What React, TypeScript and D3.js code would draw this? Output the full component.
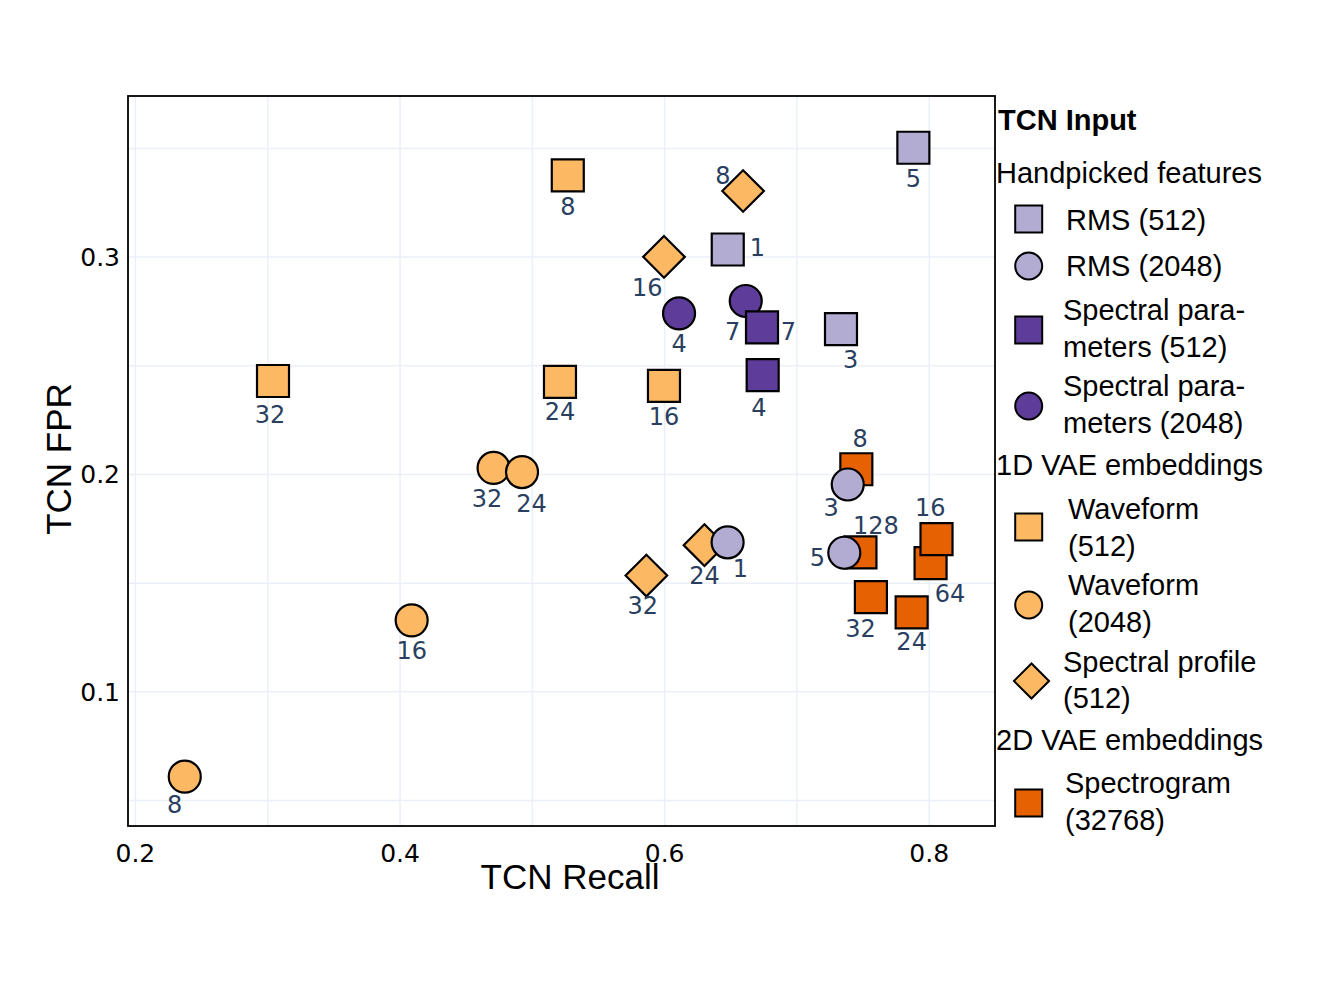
import React from "react";
import * as d3 from "d3";

// ---------- DATA ----------
const rms512X = [0.788, 0.6477, 0.7333];
const rms512Y = [0.3503, 0.3035, 0.2669];
const rms512Labels = ["5", "1", "3"];

const rms2048X = [0.7384, 0.6476, 0.7358];
const rms2048Y = [0.1954, 0.1688, 0.164];
const rms2048Labels = ["3", "1", "5"];

const spec512X = [0.6736, 0.6741];
const spec512Y = [0.2677, 0.2457];
const spec512Labels = ["7", "4"];

const spec2048X = [0.6109, 0.6613];
const spec2048Y = [0.2741, 0.2798];
const spec2048Labels = ["4", "7"];

const wave512X = [0.5268, 0.304, 0.5209, 0.5995];
const wave512Y = [0.3376, 0.243, 0.2426, 0.2408];
const wave512Labels = ["8", "32", "24", "16"];

const wave2048X = [0.4707, 0.4922, 0.4088, 0.2373];
const wave2048Y = [0.203, 0.2011, 0.1329, 0.061];
const wave2048Labels = ["32", "24", "16", "8"];

const profileX = [0.6593, 0.5995, 0.6301, 0.5862];
const profileY = [0.3304, 0.3001, 0.1675, 0.1535];
const profileLabels = ["8", "16", "24", "32"];

const spectroX = [0.7449, 0.748, 0.801, 0.8055, 0.7559, 0.7867];
const spectroY = [0.2024, 0.1642, 0.1592, 0.1703, 0.1436, 0.1366];
const spectroLabels = ["8", "128", "64", "16", "32", "24"];

const xTicks = [0.2, 0.4, 0.6, 0.8];
const yTicks = [0.1, 0.2, 0.3];
const xGrid = [0.2, 0.3, 0.4, 0.5, 0.6, 0.7, 0.8];
const yGrid = [0.05, 0.1, 0.15, 0.2, 0.25, 0.3, 0.35];

const legendTitle = "TCN Input";
const groupNames = ["Handpicked features", "1D VAE embeddings", "2D VAE embeddings"];

// ---------- LAYOUT / STYLE ----------
const W = 1329;
const H = 997;
const plot = { left: 128, right: 995, top: 96, bottom: 826 };
const xDomain = [0.1944, 0.8497];
const yDomain = [0.0383, 0.3741];

const C = {
  lightPurple: "#b2abd2",
  darkPurple: "#5e3c99",
  lightOrange: "#fdb863",
  darkOrange: "#e66101",
};

type Sym = "square" | "circle" | "diamond";

// label center offsets in px relative to the marker
const series = [
  {
    key: "spectro", name: ["Spectrogram", "(32768)"], sym: "square" as Sym, color: C.darkOrange,
    xs: spectroX, ys: spectroY, labels: spectroLabels,
    off: [[3.7, -30.8], [15.5, -26.5], [19.5, 29.8], [-6.2, -32], [-10.4, 30.8], [0, 28.7]],
  },
  {
    key: "profile", name: ["Spectral profile", "(512)"], sym: "diamond" as Sym, color: C.lightOrange,
    xs: profileX, ys: profileY, labels: profileLabels,
    off: [[-20.3, -16], [-16.7, 30.6], [0, 30.5], [-3.5, 30.1]],
  },
  {
    key: "wave2048", name: ["Waveform", "(2048)"], sym: "circle" as Sym, color: C.lightOrange,
    xs: wave2048X, ys: wave2048Y, labels: wave2048Labels,
    off: [[-6.6, 30.8], [9.6, 30.8], [0, 30], [-10, 27.3]],
  },
  {
    key: "wave512", name: ["Waveform", "(512)"], sym: "square" as Sym, color: C.lightOrange,
    xs: wave512X, ys: wave512Y, labels: wave512Labels,
    off: [[0, 30.7], [-3, 33], [0, 29.3], [0, 30.3]],
  },
  {
    key: "spec2048", name: ["Spectral para-", "meters (2048)"], sym: "circle" as Sym, color: C.darkPurple,
    xs: spec2048X, ys: spec2048Y, labels: spec2048Labels,
    off: [[0, 30], [-13, 30.7]],
  },
  {
    key: "spec512", name: ["Spectral para-", "meters (512)"], sym: "square" as Sym, color: C.darkPurple,
    xs: spec512X, ys: spec512Y, labels: spec512Labels,
    off: [[26.3, 3.7], [-3.7, 32.7]],
  },
  {
    key: "rms2048", name: ["RMS (2048)"], sym: "circle" as Sym, color: C.lightPurple,
    xs: rms2048X, ys: rms2048Y, labels: rms2048Labels,
    off: [[-16.5, 23.2], [12.7, 26.5], [-27, 5]],
  },
  {
    key: "rms512", name: ["RMS (512)"], sym: "square" as Sym, color: C.lightPurple,
    xs: rms512X, ys: rms512Y, labels: rms512Labels,
    off: [[0, 30.6], [29.6, -2.6], [9.7, 30.3]],
  },
];

// legend rows (layout)
const legendRows: Array<
  | { type: "title"; text: string; y: number }
  | { type: "group"; text: string; y: number }
  | { type: "item"; key: string; y: number; tx: number; lines: number[] }
> = [
  { type: "title", text: legendTitle, y: 120 },
  { type: "group", text: groupNames[0], y: 173 },
  { type: "item", key: "rms512", y: 219, tx: 1066, lines: [220] },
  { type: "item", key: "rms2048", y: 266, tx: 1066, lines: [266] },
  { type: "item", key: "spec512", y: 330, tx: 1063, lines: [310, 347] },
  { type: "item", key: "spec2048", y: 406, tx: 1063, lines: [386, 423] },
  { type: "group", text: groupNames[1], y: 465 },
  { type: "item", key: "wave512", y: 527, tx: 1068, lines: [509, 546] },
  { type: "item", key: "wave2048", y: 605, tx: 1068, lines: [585, 622] },
  { type: "item", key: "profile", y: 681, tx: 1063, lines: [662, 698] },
  { type: "group", text: groupNames[2], y: 740 },
  { type: "item", key: "spectro", y: 803, tx: 1065, lines: [783, 820] },
];

function symbolPath(sym: Sym, size: number): string {
  const r = size / 2;
  if (sym === "square") return `M${-r},${-r}H${r}V${r}H${-r}Z`;
  if (sym === "diamond") {
    const d = r * 1.3;
    return `M${d},0L0,${d}L${-d},0L0,${-d}Z`;
  }
  return `M${r},0A${r},${r} 0 1,1 0,${-r}A${r},${r} 0 0,1 ${r},0Z`;
}

export default function App() {
  const x = d3.scaleLinear().domain(xDomain).range([plot.left, plot.right]);
  const y = d3.scaleLinear().domain(yDomain).range([plot.bottom, plot.top]);
  const tickFont = "'DejaVu Sans', Verdana, sans-serif";
  const sansFont = "'Liberation Sans', Arial, Helvetica, sans-serif";
  const seriesByKey: Record<string, (typeof series)[number]> = {};
  series.forEach((s) => (seriesByKey[s.key] = s));

  return (
    <svg width={W} height={H} style={{ display: "block", position: "absolute", left: 0, top: 0, background: "#fff" }}>
      <defs>
        <clipPath id="plotclip">
          <rect x={plot.left} y={plot.top} width={plot.right - plot.left} height={plot.bottom - plot.top} />
        </clipPath>
      </defs>
      <rect x={0} y={0} width={W} height={H} fill="#fff" />
      {/* grid */}
      <g stroke="#ebf0f8" strokeWidth={1.5}>
        {xGrid.map((v) => (
          <line key={"gx" + v} x1={x(v)} x2={x(v)} y1={plot.top} y2={plot.bottom} />
        ))}
        {yGrid.map((v) => (
          <line key={"gy" + v} x1={plot.left} x2={plot.right} y1={y(v)} y2={y(v)} />
        ))}
      </g>
      {/* frame */}
      <rect
        x={plot.left}
        y={plot.top}
        width={plot.right - plot.left}
        height={plot.bottom - plot.top}
        fill="none"
        stroke="#000"
        strokeWidth={1.8}
      />
      {/* ticks */}
      <g fontFamily={tickFont} fontSize={25} fill="#000">
        {xTicks.map((v) => (
          <text key={"tx" + v} x={x(v)} y={862} textAnchor="middle">
            {d3.format(".1f")(v)}
          </text>
        ))}
        {yTicks.map((v) => (
          <text key={"ty" + v} x={120} y={y(v)} dy="0.36em" textAnchor="end">
            {d3.format(".1f")(v)}
          </text>
        ))}
      </g>
      {/* axis titles */}
      <text x={570} y={889} textAnchor="middle" fontFamily={sansFont} fontSize={35} fill="#000">
        TCN Recall
      </text>
      <text
        transform={`translate(71,459) rotate(-90)`}
        textAnchor="middle"
        fontFamily={sansFont}
        fontSize={35}
        fill="#000"
      >
        TCN FPR
      </text>
      {/* markers */}
      <g clipPath="url(#plotclip)">
        {series.map((s) => (
          <g key={s.key}>
            {s.xs.map((xv, i) => (
              <path
                key={i}
                d={symbolPath(s.sym, 32)}
                transform={`translate(${x(xv)},${y(s.ys[i])})`}
                fill={s.color}
                stroke="#000"
                strokeWidth={2.2}
              />
            ))}
          </g>
        ))}
      </g>
      {/* point labels */}
      <g fontFamily={tickFont} fontSize={24} fill="#2a3f5f">
        {series.map((s) =>
          s.xs.map((xv, i) => (
            <text
              key={s.key + i}
              x={x(xv) + s.off[i][0]}
              y={y(s.ys[i]) + s.off[i][1]}
              dy="0.36em"
              textAnchor="middle"
            >
              {s.labels[i]}
            </text>
          ))
        )}
      </g>
      {/* legend */}
      <g fontFamily={sansFont} fill="#000">
        {legendRows.map((r, idx) => {
          if (r.type === "title")
            return (
              <text key={idx} x={998} y={r.y} dy="0.36em" fontSize={29} fontWeight="bold">
                {r.text}
              </text>
            );
          if (r.type === "group")
            return (
              <text key={idx} x={996} y={r.y} dy="0.36em" fontSize={29}>
                {r.text}
              </text>
            );
          const s = seriesByKey[r.key];
          return (
            <g key={idx}>
              <path
                d={symbolPath(s.sym, 27)}
                transform={`translate(${s.sym === "diamond" ? 1031.5 : 1028.7},${r.y})`}
                fill={s.color}
                stroke="#000"
                strokeWidth={2}
              />
              {s.name.map((ln, j) => (
                <text key={j} x={r.tx} y={r.lines[j]} dy="0.36em" fontSize={29}>
                  {ln}
                </text>
              ))}
            </g>
          );
        })}
      </g>
    </svg>
  );
}
